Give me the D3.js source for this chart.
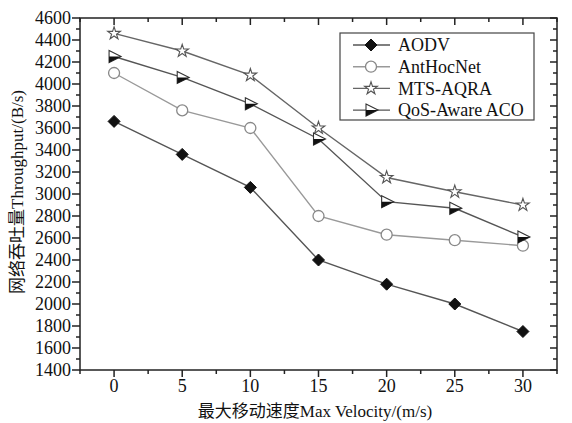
<!DOCTYPE html>
<html>
<head>
<meta charset="utf-8">
<style>
  body { margin: 0; background: #fff; }
  svg text { font-family: "Liberation Serif", "Noto Sans CJK SC", serif; fill: #111; }
  svg tspan.cjk { font-family: "Noto Sans CJK SC", sans-serif; }
</style>
</head>
<body>
<div id="chart"></div>
<script src="https://cdn.jsdelivr.net/npm/d3@7"></script>
<script>
var speeds = [0, 5, 10, 15, 20, 25, 30];
var aodv = [3660, 3360, 3060, 2400, 2180, 2000, 1750];
var antHocNet = [4100, 3760, 3600, 2800, 2630, 2580, 2530];
var mtsAqra = [4460, 4300, 4080, 3600, 3150, 3020, 2900];
var qosAco = [4250, 4060, 3820, 3500, 2930, 2870, 2610];
var seriesNames = ["AODV", "AntHocNet", "MTS-AQRA", "QoS-Aware ACO"];
var xTicks = [0, 5, 10, 15, 20, 25, 30];
var yTicks = d3.range(1400, 4601, 200);

var W = 572, H = 423;
var margin = {top: 18, right: 15, bottom: 53, left: 80};
var width = W - margin.left - margin.right,
    height = H - margin.top - margin.bottom;

var x = d3.scaleLinear().domain([-2.5, 32.5]).range([0, width]);
var y = d3.scaleLinear().domain([1400, 4600]).range([height, 0]);

var svg = d3.select("#chart").append("svg")
    .attr("width", W).attr("height", H);
var g = svg.append("g")
    .attr("transform", "translate(" + margin.left + "," + margin.top + ")");

// frame
g.append("rect").attr("width", width).attr("height", height)
  .attr("fill", "none").attr("stroke", "#222").attr("stroke-width", 1.5);

var minorX = d3.range(-2.5, 32.6, 2.5);
var minorY = d3.range(1400, 4601, 100);

// bottom axis (outward ticks)
var bx = g.append("g").attr("transform", "translate(0," + height + ")");
bx.selectAll("line").data(minorX).enter().append("line")
  .attr("x1", d => x(d)).attr("x2", d => x(d))
  .attr("y1", 0).attr("y2", d => (d % 5 === 0) ? 7 : 4)
  .attr("stroke", "#222").attr("stroke-width", 1.5);
bx.selectAll("text").data(xTicks).enter().append("text")
  .attr("x", d => x(d)).attr("y", 22)
  .attr("text-anchor", "middle").style("font-size", "18px")
  .text(d => d);

// top axis (inward ticks)
g.append("g").selectAll("line").data(minorX).enter().append("line")
  .attr("x1", d => x(d)).attr("x2", d => x(d))
  .attr("y1", 0).attr("y2", d => (d % 5 === 0) ? 7 : 4)
  .attr("stroke", "#222").attr("stroke-width", 1.5);

// left axis (outward)
var ly = g.append("g");
ly.selectAll("line").data(minorY).enter().append("line")
  .attr("y1", d => y(d)).attr("y2", d => y(d))
  .attr("x1", 0).attr("x2", d => (d % 200 === 0) ? -8 : -4)
  .attr("stroke", "#222").attr("stroke-width", 1.5);
ly.selectAll("text").data(yTicks).enter().append("text")
  .attr("x", -9).attr("y", d => y(d)).attr("dy", "0.35em")
  .attr("text-anchor", "end").style("font-size", "18px")
  .text(d => d);

// right axis (inward)
g.append("g").selectAll("line").data(minorY).enter().append("line")
  .attr("y1", d => y(d)).attr("y2", d => y(d))
  .attr("x1", width).attr("x2", d => width - ((d % 200 === 0) ? 7 : 4))
  .attr("stroke", "#222").attr("stroke-width", 1.5);

// axis titles
var xt = svg.append("text")
  .attr("x", 315).attr("y", 417)
  .attr("text-anchor", "middle").style("font-size", "17px");
xt.append("tspan").attr("class", "cjk").text("最大移动速度");
xt.append("tspan").text("Max Velocity/(m/s)");

var yt = svg.append("text")
  .attr("transform", "translate(23,192) rotate(-90)")
  .attr("text-anchor", "middle").style("font-size", "17px");
yt.append("tspan").attr("class", "cjk").text("网络吞吐量");
yt.append("tspan").text("Throughput/(B/s)");

// markers
function drawMarker(sel, k) {
  if (k === 0) {
    sel.append("path").attr("d", "M0,-6L6,0L0,6L-6,0Z")
      .attr("fill", "#111").attr("stroke", "#111");
  } else if (k === 1) {
    sel.append("circle").attr("r", 5.5)
      .attr("fill", "#fff").attr("stroke", "#888").attr("stroke-width", 1.3);
  } else if (k === 2) {
    sel.append("path").attr("d", d3.symbol().type(d3.symbolStar).size(50)())
      .attr("fill", "#fff").attr("stroke", "#555").attr("stroke-width", 1.1);
  } else {
    sel.append("path").attr("d", "M-5,-6L7,0L-5,6Z")
      .attr("fill", "#fff").attr("stroke", "#333").attr("stroke-width", 1.1);
    sel.append("path").attr("d", "M-5,0L7,0L-5,6Z").attr("fill", "#111");
  }
}

var allSeries = [aodv, antHocNet, mtsAqra, qosAco];
var lineColors = ["#555", "#999", "#666", "#555"];
var line = d3.line().x((d, i) => x(speeds[i])).y(d => y(d));

allSeries.forEach(function(vals, k) {
  g.append("path").datum(vals)
    .attr("d", line).attr("fill", "none")
    .attr("stroke", lineColors[k]).attr("stroke-width", 1.4);
});
allSeries.forEach(function(vals, k) {
  vals.forEach(function(v, i) {
    drawMarker(g.append("g").attr("transform", "translate(" + x(speeds[i]) + "," + y(v) + ")"), k);
  });
});

// legend
var lg = svg.append("g").attr("transform", "translate(340,33)");
lg.append("rect").attr("width", 194).attr("height", 87)
  .attr("fill", "#fff").attr("stroke", "#444").attr("stroke-width", 1.2);
seriesNames.forEach(function(name, k) {
  var row = lg.append("g").attr("transform", "translate(0," + (12 + k * 21.7) + ")");
  row.append("line").attr("x1", 13).attr("x2", 50).attr("y1", 0).attr("y2", 0)
    .attr("stroke", lineColors[k]).attr("stroke-width", 1.4);
  drawMarker(row.append("g").attr("transform", "translate(31,0)"), k);
  row.append("text").attr("x", 58).attr("y", 0).attr("dy", "0.35em")
    .style("font-size", "18px").text(name);
});
</script>
</body>
</html>
